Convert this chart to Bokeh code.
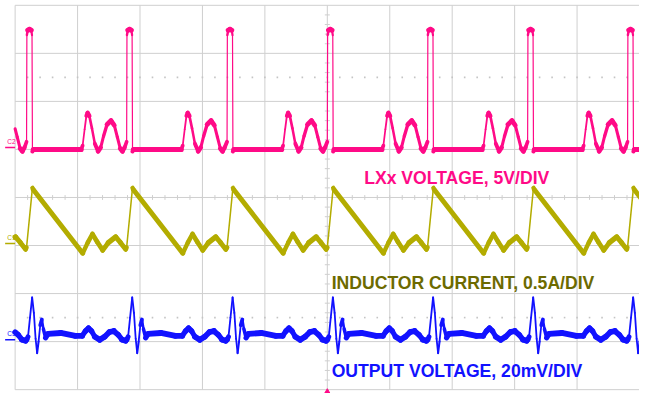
import numpy as np
from bokeh.plotting import figure
from bokeh.embed import file_html
from bokeh.resources import INLINE
from bokeh.core.properties import value

# ---------------- data read from the scope capture ----------------
# time axis in horizontal divisions (10 divisions across the screen)
cycle_starts_div = [-1.42, 0.183, 1.786, 3.394, 5.0, 6.605, 8.208, 9.809]

# LX node voltage, one switching cycle (V)
lx_t_div = [0.000, 0.005, 0.019, 0.047, 0.075, 0.0875, 0.094, 0.109, 0.875,
            0.898, 0.930, 0.958, 0.978, 1.005, 1.047, 1.094, 1.145, 1.1875,
            1.234, 1.289, 1.353, 1.406, 1.453, 1.500, 1.536, 1.570]
lx_volts = [0.6, 11.7, 12.2, 12.3, 12.2, 11.7, -0.4, -0.2, -0.2,
            0.2, 1.9, 3.3, 3.6, 3.3, 2.0, 0.4, -0.4, 0.0,
            1.2, 2.4, 2.8, 2.3, 1.1, -0.1, -0.4, 0.0]

# inductor current, one switching cycle (A)
il_t_div = [0.000, 0.094, 0.109, 0.899, 0.980, 1.055, 1.130, 1.219,
            1.310, 1.427, 1.505, 1.5875]
il_amps = [-0.04, 0.58, 0.56, -0.10, 0.01, 0.10, 0.02, -0.07,
           0.01, 0.07, 0.01, -0.06]

# output voltage ripple, one switching cycle (mV, AC coupled)
vout_t_div = [0.000, 0.023, 0.055, 0.089, 0.117, 0.145, 0.169, 0.192, 0.219,
              0.245, 0.270, 0.305, 0.344, 0.547, 0.781, 0.891, 0.945, 0.992,
              1.039, 1.094, 1.172, 1.250, 1.328, 1.398, 1.469, 1.531, 1.586]
vout_mv = [0.0, 1.2, 9.2, 17.6, 11.2, 0.4, -5.6, -0.8, 6.0,
           8.4, 4.4, 0.8, 2.4, 2.8, 1.6, 1.6, 3.6, 4.8,
           3.6, 1.2, 0.0, 1.2, 3.2, 3.6, 2.0, 0.0, -0.4]

channel_names = ["C2", "C1", "C3"]
channel_titles = ["LXx VOLTAGE, 5V/DIV", "INDUCTOR CURRENT, 0.5A/DIV",
                  "OUTPUT VOLTAGE, 20mV/DIV"]
units_per_div = [5.0, 0.5, 20.0]
ground_div = [5.04, 3.04, 1.04]   # channel ground markers (divisions from bottom)
trigger_div = 5.0

# ---------------- styling ----------------
PINK = "#ff0a87"
OLIVE = "#b3ac00"
OLIVE_TXT = "#6c6a00"
BLUE = "#1212ff"
GRID = "#cfcfcf"

X0, X1 = -15 / 64, 10.0
Y0, Y1 = -4 / 50, 405 / 50
W, H = 639, 393
PX_X = W / (X1 - X0)
PX_Y = H / (Y1 - Y0)
S = PX_X / 64.0   # overall scale relative to the original capture

p = figure(width=W, height=H, x_range=(X0, X1), y_range=(Y0, Y1),
           output_backend="svg", toolbar_location=None,
           x_axis_location=None, y_axis_location=None, min_border=0)
p.outline_line_color = None
p.background_fill_color = "white"
p.border_fill_color = "white"
for g in p.grid:
    g.visible = False

# graticule
gx = np.arange(0, 11)
gy = np.arange(0, 9)
p.segment(x0=gx, y0=0, x1=gx, y1=8, line_color=GRID, line_width=1)
p.segment(x0=0, y0=gy, x1=10, y1=gy, line_color=GRID, line_width=1)
dots = np.arange(0.2, 10, 0.2)
for yy in (1.5, 6.5):
    p.scatter(x=dots, y=np.full(len(dots), yy), marker="square", size=1.6,
              color="#c4c4c4", line_color=None)
tx = np.arange(0.2, 10, 0.2)
p.segment(x0=tx, y0=4 - 0.05, x1=tx, y1=4 + 0.05, line_color=GRID, line_width=1)
ty = np.arange(0.2, 8, 0.2)
p.segment(x0=5 - 0.04, y0=ty, x1=5 + 0.04, y1=ty, line_color=GRID, line_width=1)


def draw_trace(t, v, scale, ground, color, thick, thin):
    xs, ys = [], []
    for s in cycle_starts_div:
        xs.extend(s + np.asarray(t))
        ys.extend(ground + np.asarray(v) / scale)
    xs = np.array(xs)
    ys = np.array(ys)
    x0, y0, x1, y1 = xs[:-1], ys[:-1], xs[1:], ys[1:]
    # keep only what lies on the screen (x >= 0), clipping the crossing segment
    keep = x1 > 0
    x0, y0, x1, y1 = x0[keep], y0[keep], x1[keep], y1[keep]
    cross = x0 < 0
    frac = np.where(cross, (0 - x0) / np.where(x1 - x0 == 0, 1, x1 - x0), 0)
    y0 = y0 + frac * (y1 - y0)
    x0 = np.where(cross, 0.0, x0)
    dx = np.abs(x1 - x0) * PX_X
    dy = np.abs(y1 - y0) * PX_Y
    r = dy / np.maximum(dx, 1e-6)
    w = np.maximum(thin, thick / np.sqrt(1 + (r / 3.0) ** 2))
    p.segment(x0=x0, y0=y0, x1=x1, y1=y1,
              line_width=w, line_color=color, line_cap="round")


draw_trace(lx_t_div, lx_volts, units_per_div[0], ground_div[0], PINK, 5.2 * S, 1.2)
draw_trace(il_t_div, il_amps, units_per_div[1], ground_div[1], OLIVE, 5.5 * S, 1.5)
draw_trace(vout_t_div, vout_mv, units_per_div[2], ground_div[2], BLUE, 6.0 * S, 1.8)

# channel ground markers
ch_colors = [PINK, OLIVE, BLUE]
p.segment(x0=-0.16, y0=ground_div, x1=0, y1=ground_div, line_color=ch_colors, line_width=1.5)
p.text(x=[-0.125] * 3, y=[g + 0.12 for g in ground_div], text=channel_names,
       text_color=ch_colors, text_font=value("Liberation Sans"),
       text_font_size="6.5px", text_baseline="alphabetic")

# trigger position marker
p.scatter(x=[trigger_div], y=[-0.04], marker="triangle", size=5, color=PINK)

# channel titles
fs = "%.1fpx" % (18.0 * S)
p.text(x=[5.59, 5.07, 5.07], y=[4.40, 2.21, 0.38], text=channel_titles,
       text_color=[PINK, OLIVE_TXT, BLUE], text_font=value("Liberation Sans"),
       text_font_style="bold", text_font_size=fs, text_baseline="alphabetic")

open("out.html", "w").write(file_html(p, INLINE))
